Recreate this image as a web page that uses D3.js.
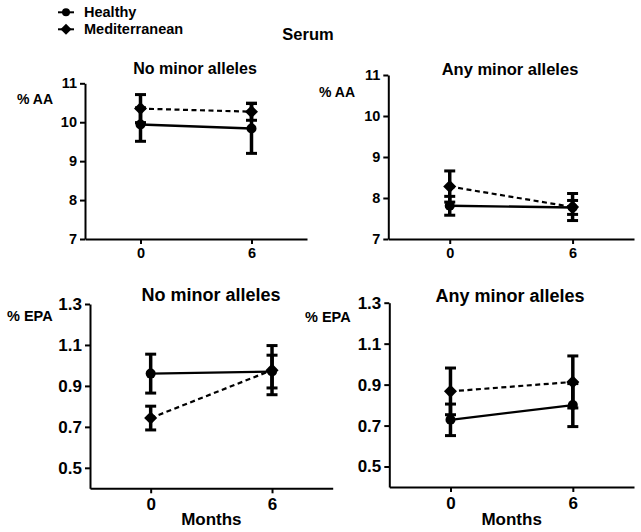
<!DOCTYPE html>
<html><head><meta charset="utf-8">
<script src="https://cdn.jsdelivr.net/npm/d3@7"></script>
<style>
body{margin:0;background:#fff;}
svg{display:block;font-family:"Liberation Sans",Arial,sans-serif;font-weight:bold;}
</style></head>
<body><svg id="c" width="641" height="532"></svg>
<script>
const months = [0, 6];
const xTicks = [0, 6];
const aaTicks = [7, 8, 9, 10, 11];
const epaTicks = [0.5, 0.7, 0.9, 1.1, 1.3];
const seriesNames = ["Healthy", "Mediterranean"];

const aaNoneHealthy = [9.94, 9.84], aaNoneHealthyErr = [0.43, 0.64];
const aaNoneMed = [10.35, 10.27], aaNoneMedErr = [0.36, 0.22];
const aaAnyHealthy = [7.81, 7.77], aaAnyHealthyErr = [0.23, 0.17];
const aaAnyMed = [8.28, 7.78], aaAnyMedErr = [0.38, 0.33];
const epaNoneHealthy = [0.96, 0.97], epaNoneHealthyErr = [0.095, 0.08];
const epaNoneMed = [0.743, 0.977], epaNoneMedErr = [0.058, 0.12];
const epaAnyHealthy = [0.728, 0.80], epaAnyHealthyErr = [0.077, 0.105];
const epaAnyMed = [0.867, 0.913], epaAnyMedErr = [0.114, 0.127];

const svg = d3.select("#c");
const ink = "#000";

const panels = [
  {title:"No minor alleles", ylab:"% AA", x0:85, x1:307, y0:239, y1:83.3, dom:[7,11], ticks:aaTicks, fmt:d3.format("d"),
   h:aaNoneHealthy, he:aaNoneHealthyErr, m:aaNoneMed, me:aaNoneMedErr, tf:16, tx:195, ty:74, fs:14.5, labx:17, laby:104, months:false},
  {title:"Any minor alleles", ylab:"% AA", x0:388.3, x1:634, y0:239, y1:75, dom:[7,11], ticks:aaTicks, fmt:d3.format("d"),
   h:aaAnyHealthy, he:aaAnyHealthyErr, m:aaAnyMed, me:aaAnyMedErr, tf:16.5, tx:510, ty:75, fs:14.5, labx:319, laby:97, months:false},
  {title:"No minor alleles", ylab:"% EPA", x0:90, x1:332.7, y0:488.3, y1:304, dom:[0.4,1.3], ticks:epaTicks, fmt:d3.format(".1f"),
   h:epaNoneHealthy, he:epaNoneHealthyErr, m:epaNoneMed, me:epaNoneMedErr, tf:18, tx:211, ty:301, fs:17, labx:7, laby:321, months:true},
  {title:"Any minor alleles", ylab:"% EPA", x0:389.3, x1:634, y0:487, y1:302.7, dom:[0.4,1.3], ticks:epaTicks, fmt:d3.format(".1f"),
   h:epaAnyHealthy, he:epaAnyHealthyErr, m:epaAnyMed, me:epaAnyMedErr, tf:18, tx:510, ty:302, fs:17, labx:305, laby:322, months:true}
];

panels.forEach(p => {
  const x = d3.scaleLinear().domain([-3, 9]).range([p.x0, p.x1]);
  const y = d3.scaleLinear().domain(p.dom).range([p.y0, p.y1]);
  const g = svg.append("g");

  const ya = g.append("g").attr("transform", `translate(${p.x0},0)`)
    .call(d3.axisLeft(y).tickValues(p.ticks).tickFormat(p.fmt).tickSize(5).tickPadding(3).tickSizeOuter(0));
  const xa = g.append("g").attr("transform", `translate(0,${p.y0})`)
    .call(d3.axisBottom(x).tickValues(xTicks).tickFormat(d3.format("d")).tickSize(5).tickPadding(p.fs > 15 ? 5 : 4).tickSizeOuter(0));
  [ya, xa].forEach(a => {
    a.select(".domain").attr("stroke", ink).attr("stroke-width", 2);
    a.selectAll(".tick line").attr("stroke", ink).attr("stroke-width", 2);
    a.selectAll(".tick text").attr("fill", ink).attr("font-size", p.fs).attr("font-weight", "bold")
      .attr("font-family", '"Liberation Sans",Arial,sans-serif');
  });

  const line = d3.line().x((d, i) => x(months[i])).y(d => y(d));
  g.append("path").datum(p.m).attr("d", line).attr("fill", "none").attr("stroke", ink)
    .attr("stroke-width", 2.2).attr("stroke-dasharray", "5,3.5");
  g.append("path").datum(p.h).attr("d", line).attr("fill", "none").attr("stroke", ink)
    .attr("stroke-width", 2.4);

  const drawErr = (vals, errs) => {
    vals.forEach((v, i) => {
      const cx = x(months[i]);
      const top = y(v + errs[i]), bot = y(v - errs[i]);
      g.append("line").attr("x1", cx).attr("x2", cx).attr("y1", top).attr("y2", bot)
        .attr("stroke", ink).attr("stroke-width", 3.5);
      [top, bot].forEach(yy => g.append("line").attr("x1", cx - 5.5).attr("x2", cx + 5.5)
        .attr("y1", yy).attr("y2", yy).attr("stroke", ink).attr("stroke-width", 3));
    });
  };
  drawErr(p.m, p.me);
  drawErr(p.h, p.he);

  g.selectAll(".dm").data(p.m).join("path")
    .attr("transform", (d, i) => `translate(${x(months[i])},${y(d)}) rotate(45)`)
    .attr("d", d3.symbol().type(d3.symbolSquare).size(85)).attr("fill", ink);
  g.selectAll(".ci").data(p.h).join("circle")
    .attr("cx", (d, i) => x(months[i])).attr("cy", d => y(d)).attr("r", 5).attr("fill", ink);

  g.append("text").attr("x", p.tx).attr("y", p.ty).attr("text-anchor", "middle")
    .attr("font-size", p.tf).text(p.title);
  g.append("text").attr("x", p.labx).attr("y", p.laby).attr("font-size", p.fs > 15 ? 14.5 : 14).text(p.ylab);
  if (p.months) {
    g.append("text").attr("x", x(3)).attr("y", 525).attr("text-anchor", "middle")
      .attr("font-size", 17).text("Months");
  }
});

const leg = svg.append("g");
[0, 1].forEach(i => {
  const yy = i === 0 ? 12.3 : 29.3;
  leg.append("line").attr("x1", 58).attr("x2", 74).attr("y1", yy).attr("y2", yy)
    .attr("stroke", ink).attr("stroke-width", 2);
  if (i === 0) leg.append("circle").attr("cx", 66).attr("cy", yy).attr("r", 4).attr("fill", ink);
  else leg.append("path").attr("transform", `translate(66,${yy}) rotate(45)`)
    .attr("d", d3.symbol().type(d3.symbolSquare).size(60)).attr("fill", ink);
  leg.append("text").attr("x", 84).attr("y", yy + 5).attr("font-size", 14.5).text(seriesNames[i]);
});

svg.append("text").attr("x", 308).attr("y", 40).attr("text-anchor", "middle")
  .attr("font-size", 16.5).text("Serum");
</script>
</body></html>
